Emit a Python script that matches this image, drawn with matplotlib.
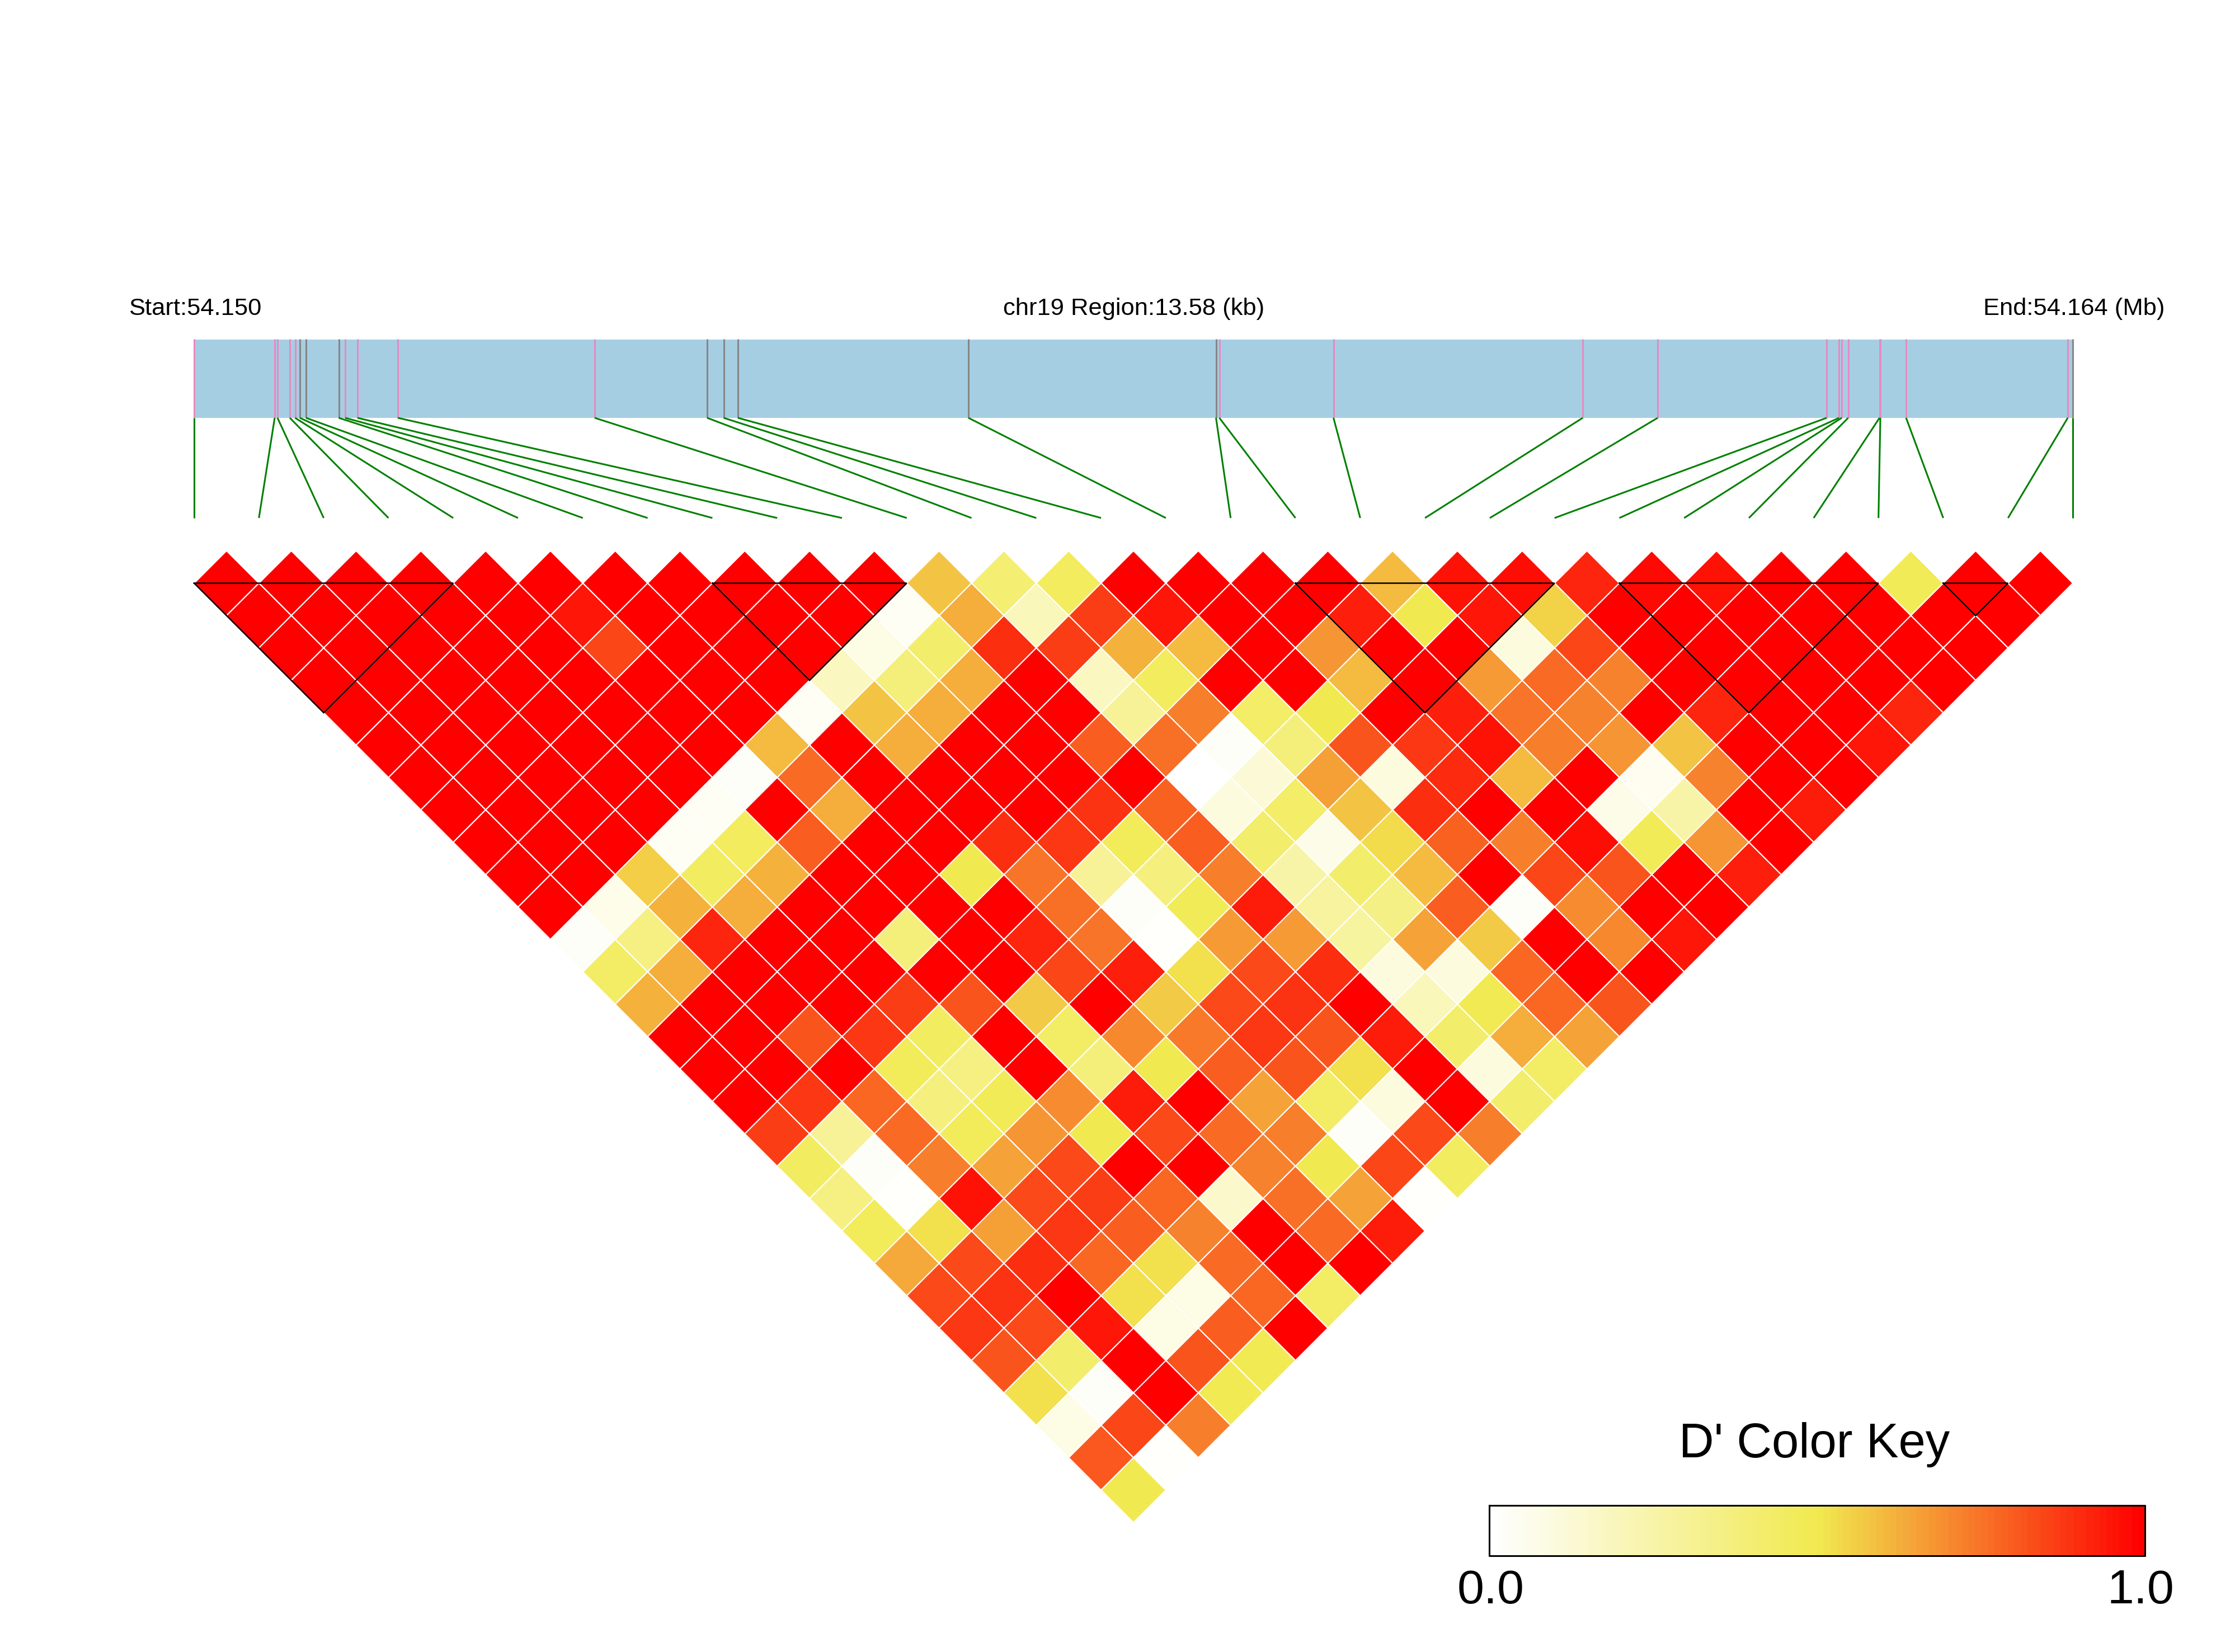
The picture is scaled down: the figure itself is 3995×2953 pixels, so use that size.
import matplotlib
matplotlib.use('Agg')
import matplotlib.pyplot as plt
import numpy as np
from matplotlib.collections import PolyCollection
from matplotlib.colors import LinearSegmentedColormap

plt.rcParams['font.family'] = ['Liberation Sans', 'DejaVu Sans']

# D' per SNP pair, one list per distance between the pair (first row = neighbours)
row_00 = [1, 1, 1, 1, 1, 1, 1, 1, 1, 1, 1, .58, .4, .46, 1, 1, 1, 1, .6, .96, .97, .92, .98, .96, 1, 1, .48, 1, 1]
row_01 = [1, 1, 1, 1, 1, .95, 1, 1, 1, 1, .03, .63, .2, .87, .95, 1, 1, .93, .5, .95, .55, 1, 1, 1, 1, 1, 1, 1]
row_02 = [1, 1, 1, 1, 1, .85, 1, 1, 1, .08, .42, .9, .87, .62, .6, 1, .68, 1, 1, .1, .85, 1, 1, 1, 1, 1, 1]
row_03 = [1, 1, 1, 1, 1, 1, 1, 1, .18, .38, .63, 1, .18, .46, 1, 1, .6, 1, .67, .77, .72, 1, 1, 1, 1, 1]
row_04 = [1, 1, 1, 1, 1, 1, 1, .03, .58, .63, 1, 1, .3, .73, .43, .5, 1, .93, .75, .72, 1, .92, 1, 1, .92]
row_05 = [1, 1, 1, 1, 1, 1, .6, 1, .63, 1, 1, .8, .76, .02, .38, .82, .88, .96, .73, .68, .58, 1, 1, .95]
row_06 = [1, 1, 1, 1, 1, .02, .77, 1, 1, 1, 1, 1, 0, .12, .66, .1, .91, .6, 1, .05, .72, 1, 1]
row_07 = [1, 1, 1, 1, .03, 1, .63, 1, 1, 1, .89, .79, .1, .43, .58, .9, 1, 1, .07, .25, 1, .94]
row_08 = [1, 1, 1, .03, .46, .8, 1, 1, .9, .88, .47, .8, .42, .07, .53, .79, .73, .97, .48, .68, 1]
row_09 = [1, 1, .56, .45, .62, 1, 1, .5, .75, .3, .37, .73, .25, .42, .6, 1, .85, .82, 1, .93]
row_10 = [1, .06, .62, .63, 1, 1, 1, 1, .76, .02, .48, .94, .28, .35, .8, .02, .7, 1, 1]
row_11 = [.02, .36, .92, 1, 1, .38, 1, .92, .75, .01, .67, .67, .27, .65, .57, 1, .71, .95]
row_12 = [.44, .63, 1, 1, 1, 1, 1, .85, .93, .52, .84, .9, .1, .1, .78, 1, 1]
row_13 = [.62, 1, 1, 1, .87, .82, .57, 1, .57, .84, .89, 1, .2, .49, .78, .82]
row_14 = [1, 1, .82, .88, .45, 1, .44, .71, .74, .88, .82, .94, .42, .63, .65]
row_15 = [1, 1, 1, .47, .36, 1, .38, .5, .8, .82, .52, 1, .1, .44]
row_16 = [1, .88, .78, .37, .48, .7, .94, 1, .65, .44, .1, 1, .42]
row_17 = [.87, .3, .77, .47, .68, .5, .84, .77, .73, .02, .84, .73]
row_18 = [.45, .02, .73, .65, .84, 1, 1, .72, .5, .85, .45]
row_19 = [.36, .01, .96, .84, .87, .78, .15, .76, .65, .01]
row_20 = [.47, .52, .66, .88, .8, .72, 1, .77, .94]
row_21 = [.64, .84, .9, .78, .52, .77, 1, 1]
row_22 = [.84, .89, 1, .52, .08, .78, .44]
row_23 = [.88, .84, .95, .08, .8, 1]
row_24 = [.82, .42, 1, .82, .49]
row_25 = [.52, .02, 1, .49]
row_26 = [.08, .85, .73]
row_27 = [.81, .01]
row_28 = [.5]

ld_rows = [row_00, row_01, row_02, row_03, row_04, row_05, row_06, row_07, row_08, row_09,
           row_10, row_11, row_12, row_13, row_14, row_15, row_16, row_17, row_18, row_19,
           row_20, row_21, row_22, row_23, row_24, row_25, row_26, row_27, row_28]

# SNP positions along the region (pixels of the band)
snp_pos = [347, 491, 496, 518, 527.5, 536, 547, 605.5, 617, 639, 711, 1063, 1264, 1293.5, 1319,
           1731, 2173.5, 2179.5, 2383.5, 2829, 2963, 3265, 3287, 3292, 3303.5, 3359.5, 3361, 3407, 3696, 3705]
snp_gray = [5, 6, 7, 12, 13, 14, 15, 16, 29]

# haplotype blocks as (first SNP, last SNP)
blocks = [(0, 4), (8, 11), (17, 21), (22, 26), (27, 28)]

region_start = 'Start:54.150'
region_mid = 'chr19 Region:13.58 (kb)'
region_end = 'End:54.164 (Mb)'
key_title = "D' Color Key"
key_ticks = ['0.0', '1.0']

W, H = 3995, 2953
x0, x1 = 347, 3705
step = (x1 - x0) / 29
half = step / 2
y_top = 1042.5

cmap = LinearSegmentedColormap.from_list('ld', ['#FFFFFF', '#F1EA50', '#FF0000'])

fig = plt.figure(figsize=((W + 0.1) / 100, (H + 0.1) / 100), dpi=100)
ax = fig.add_axes([0, 0, 1, 1])
ax.set_xlim(0, W)
ax.set_ylim(H, 0)
ax.axis('off')

# gene band with the SNP stripes
ax.fill_between([x0, x1], 607, 747, color='#A6CEE3', lw=0, zorder=1)
for k, pos in enumerate(snp_pos):
    c = '#868686' if k in snp_gray else '#E78AC3'
    ax.plot([pos, pos], [606, 747], color=c, lw=2.2, solid_capstyle='butt', zorder=2)
    ax.plot([pos, x0 + k * step], [747, 926], color='#008000', lw=2.2,
            solid_capstyle='butt', zorder=2)

# the LD triangle
polys = []
vals = []
for k, row in enumerate(ld_rows):
    for i, v in enumerate(row):
        cx = x0 + (i + (k + 1) / 2) * step
        cy = y_top + k * half
        polys.append([(cx - half, cy), (cx, cy - half), (cx + half, cy), (cx, cy + half)])
        vals.append(v)
pc = PolyCollection(polys, array=np.array(vals), cmap=cmap, clim=(0, 1),
                    edgecolors='white', linewidths=1.5, zorder=3)
ax.add_collection(pc)

# block outlines
for a, b in blocks:
    xa = x0 + a * step
    xb = x0 + b * step
    ax.plot([xa, xb, (xa + xb) / 2, xa], [y_top, y_top, y_top + (xb - xa) / 2, y_top],
            color='black', lw=1.8, zorder=4, solid_joinstyle='miter')

# texts above the band
ax.text(230, 563, region_start, fontsize=31.3, ha='left', va='baseline')
ax.text(2027, 563, region_mid, fontsize=31.3, ha='center', va='baseline')
ax.text(3869, 563, region_end, fontsize=31.3, ha='right', va='baseline')

# color key
key_ramp = np.linspace(0, 1, 100).reshape(1, -1)
ax.imshow(key_ramp, cmap=cmap, vmin=0, vmax=1, extent=(2662, 3834, 2781, 2691),
          aspect='auto', interpolation='nearest', zorder=3)
ax.set_xlim(0, W)
ax.set_ylim(H, 0)
ax.plot([2662, 3834, 3834, 2662, 2662], [2691, 2691, 2781, 2781, 2691], color='black', lw=2.2, zorder=4)
ax.text(3243, 2605, key_title, fontsize=62.5, ha='center', va='baseline')
ax.text(2665, 2866, key_ticks[0], fontsize=62, ha='center', va='baseline')
ax.text(3826, 2866, key_ticks[1], fontsize=62, ha='center', va='baseline')

fig.savefig('out.png', dpi=100, facecolor='white')
